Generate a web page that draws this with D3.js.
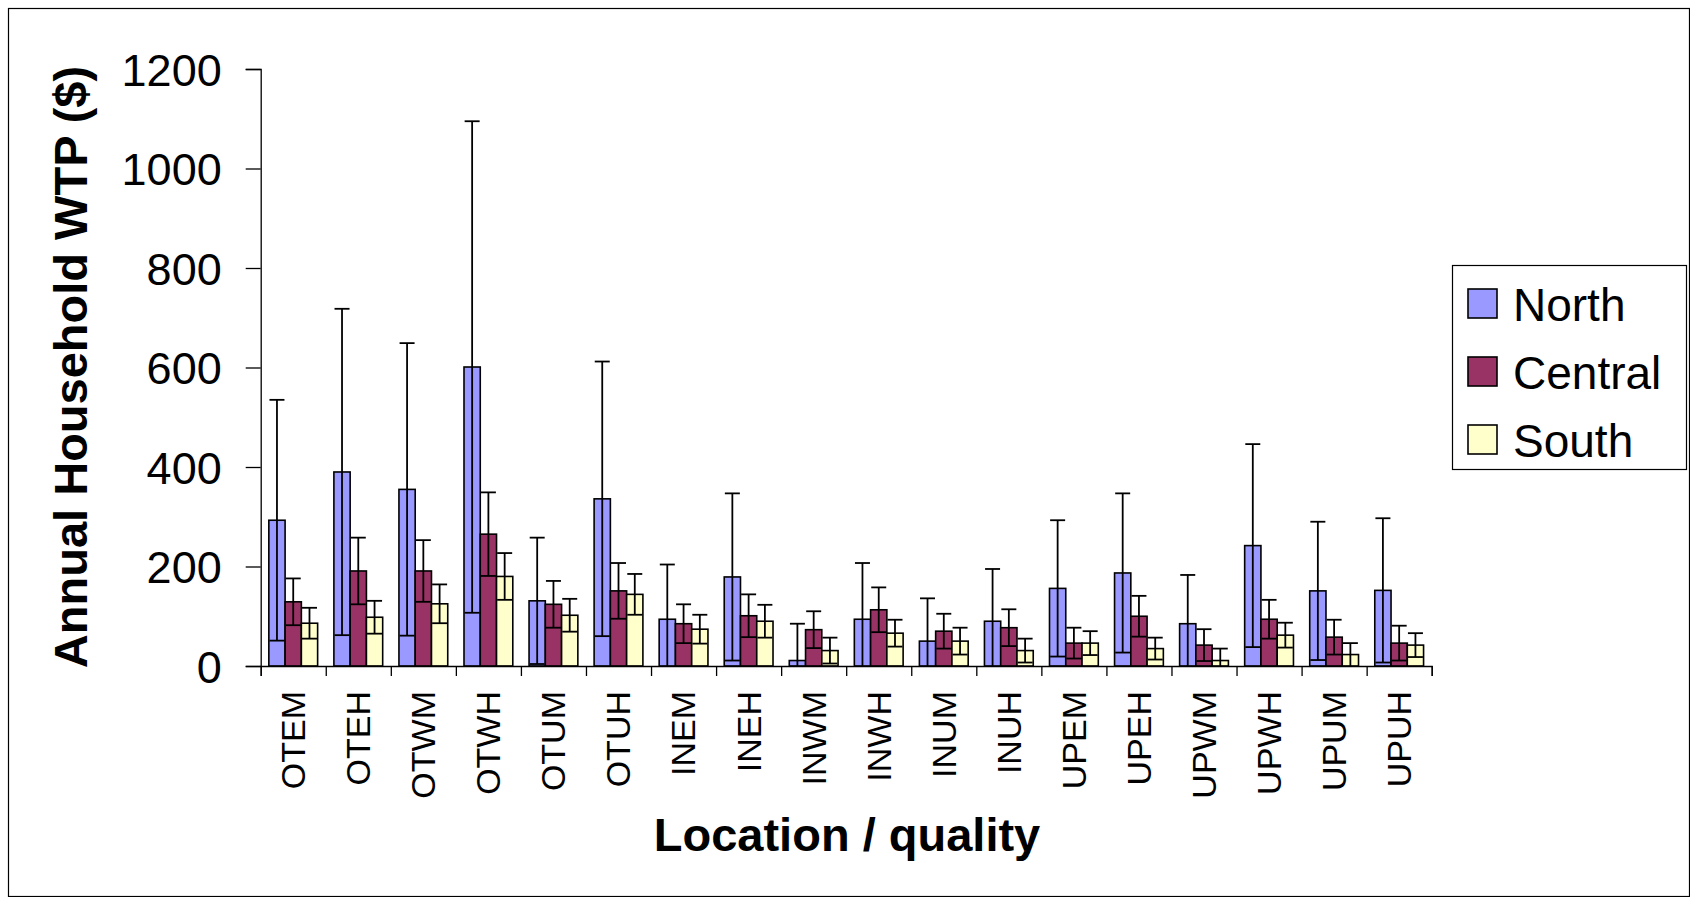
<!DOCTYPE html>
<html>
<head>
<meta charset="utf-8">
<script src="https://cdn.jsdelivr.net/npm/d3@7"></script>
<style>
  body { margin: 0; background: #fff; }
  svg { display: block; font-family: "Liberation Sans", Arial, sans-serif; }
</style>
</head>
<body>
<svg id="chart" width="1690" height="897"></svg>
<script>
// categories (location / quality)
const categories = ["OTEM","OTEH","OTWM","OTWH","OTUM","OTUH","INEM","INEH","INWM",
                    "INWH","INUM","INUH","UPEM","UPEH","UPWM","UPWH","UPUM","UPUH"];
const seriesNames = ["North", "Central", "South"];
const seriesColors = ["#9999FF", "#993366", "#FFFFCC"];

// mean WTP per series
const northValues   = [293, 390, 355, 601, 131, 336, 94, 179, 11, 94, 50, 90, 156, 187, 85, 242, 151, 152];
const centralValues = [129, 191, 191, 265, 124, 151, 85, 101, 73, 113, 70, 77, 46, 100, 42, 94, 58, 46];
const southValues   = [86, 98, 125, 180, 102, 144, 74, 90, 31, 66, 50, 31, 46, 35, 11, 62, 23, 42];

// error (+/-) per series
const northErr   = [242, 328, 294, 494, 127, 276, 110, 168, 74, 113, 86, 105, 137, 160, 98, 204, 139, 145];
const centralErr = [47, 67, 62, 84, 47, 56, 39, 43, 37, 45, 35, 37, 31, 41, 32, 39, 35, 35];
const southErr   = [31, 33, 39, 47, 33, 41, 29, 33, 26, 27, 27, 24, 24, 22, 24, 25, 23, 24];

const yTicks = [0, 200, 400, 600, 800, 1000, 1200];

const allValues = [northValues, centralValues, southValues];
const allErr = [northErr, centralErr, southErr];

const svg = d3.select("#chart");
const W = +svg.attr("width"), H = +svg.attr("height");

// outer chart border
svg.append("rect")
   .attr("x", 8.5).attr("y", 8.5)
   .attr("width", W - 9).attr("height", H - 9)
   .attr("fill", "none").attr("stroke", "#000").attr("stroke-width", 1.2);

const plot = {left: 260.7, right: 1431.7, top: 69, bottom: 666};

const x = d3.scaleBand().domain(categories).range([plot.left, plot.right]);
const xs = d3.scaleBand().domain(seriesNames)
             .range([x.bandwidth() * 0.125, x.bandwidth() * 0.875]);
const y = d3.scaleLinear().domain([0, 1200]).range([plot.bottom, plot.top]);

// y axis
const yAxis = d3.axisLeft(y).tickValues(yTicks).tickSize(15).tickPadding(24).tickFormat(d3.format("d"));
const gy = svg.append("g").attr("transform", `translate(${plot.left},0)`).call(yAxis);
gy.select(".domain").attr("stroke", "#000").attr("stroke-width", 1.3);
gy.selectAll(".tick line").attr("stroke", "#000").attr("stroke-width", 1.3);
gy.selectAll("text").attr("font-size", 45).attr("fill", "#000").attr("dy", "0.36em");

// bars
const rows = [];
categories.forEach((c, i) => {
    seriesNames.forEach((s, j) => {
        rows.push({cat: c, series: s, j: j, v: allValues[j][i], e: allErr[j][i]});
    });
});

const groups = svg.append("g");
groups.selectAll("rect")
    .data(rows)
    .join("rect")
    .attr("x", d => x(d.cat) + xs(d.series))
    .attr("y", d => y(d.v))
    .attr("width", xs.bandwidth())
    .attr("height", d => y(0) - y(d.v))
    .attr("fill", d => seriesColors[d.j])
    .attr("stroke", "#000")
    .attr("stroke-width", 1.6);

// error bars
const capW = 15;
const eb = svg.append("g").attr("stroke", "#000").attr("stroke-width", 1.8);
rows.forEach(d => {
    const cx = x(d.cat) + xs(d.series) + xs.bandwidth() / 2;
    const lo = Math.max(0, d.v - d.e), hi = d.v + d.e;
    eb.append("line").attr("x1", cx).attr("x2", cx).attr("y1", y(lo)).attr("y2", y(hi));
    eb.append("line").attr("x1", cx - capW / 2).attr("x2", cx + capW / 2)
      .attr("y1", y(hi)).attr("y2", y(hi));
    if (d.v - d.e > 0) {
        eb.append("line").attr("x1", cx - capW / 2).attr("x2", cx + capW / 2)
          .attr("y1", y(lo)).attr("y2", y(lo));
    }
});

// x axis: boundary ticks
const xb = d3.scaleLinear().domain([0, categories.length]).range([plot.left, plot.right]);
const gxt = svg.append("g").attr("transform", `translate(0,${plot.bottom})`)
    .call(d3.axisBottom(xb).tickValues(d3.range(categories.length + 1))
          .tickSize(10).tickFormat(""));
gxt.select(".domain").attr("stroke", "#000").attr("stroke-width", 1.3);
gxt.selectAll(".tick line").attr("stroke", "#000").attr("stroke-width", 1.3);

// x axis labels
const gx = svg.append("g").attr("transform", `translate(0,${plot.bottom})`)
    .call(d3.axisBottom(x).tickSize(0));
gx.select(".domain").remove();
gx.selectAll("text")
    .attr("transform", "rotate(-90)")
    .attr("x", -25).attr("y", 0).attr("dy", "0.35em")
    .attr("text-anchor", "end")
    .attr("font-size", 34).attr("fill", "#000");

// axis titles
svg.append("text")
   .attr("transform", "translate(87,367) rotate(-90)")
   .attr("text-anchor", "middle")
   .attr("font-size", 47).attr("font-weight", "bold")
   .text("Annual Household WTP ($)");

svg.append("text")
   .attr("x", 847).attr("y", 851)
   .attr("text-anchor", "middle")
   .attr("font-size", 47).attr("font-weight", "bold")
   .text("Location / quality");

// legend
const legend = svg.append("g");
legend.append("rect")
   .attr("x", 1452.5).attr("y", 265.5).attr("width", 234).attr("height", 204)
   .attr("fill", "#fff").attr("stroke", "#000").attr("stroke-width", 1.2);
const legY = d3.scalePoint().domain(seriesNames).range([289, 425]);
seriesNames.forEach((s, j) => {
    legend.append("rect")
       .attr("x", 1468).attr("y", legY(s)).attr("width", 29).attr("height", 29)
       .attr("fill", seriesColors[j]).attr("stroke", "#000").attr("stroke-width", 1.6);
    legend.append("text")
       .attr("x", 1513).attr("y", legY(s) + 32)
       .attr("font-size", 46).attr("fill", "#000")
       .text(s);
});
</script>
</body>
</html>
